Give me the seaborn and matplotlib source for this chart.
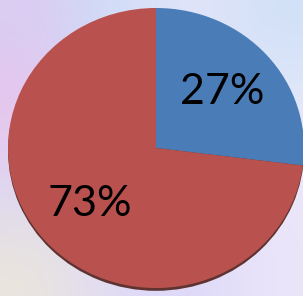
import numpy as np
import matplotlib
matplotlib.use("Agg")
import matplotlib.pyplot as plt
import seaborn as sns

# data
labels = ["A", "B"]
shares = [27, 73]
colors = ["#4a7db7", "#b9524e"]

sns.set_theme(style="white")
plt.rcParams["font.family"] = ["Lato", "DejaVu Sans"]

fig = plt.figure(figsize=(3.03, 2.96), dpi=100)

# soft blurry backdrop
bg = fig.add_axes([0, 0, 1, 1])
grid = np.array([
    [[0.86, 0.80, 0.95], [0.80, 0.87, 0.97], [0.90, 0.90, 0.98], [0.82, 0.88, 0.97]],
    [[0.92, 0.76, 0.92], [0.85, 0.85, 0.96], [0.88, 0.88, 0.97], [0.90, 0.92, 0.98]],
    [[0.86, 0.84, 0.96], [0.88, 0.86, 0.96], [0.90, 0.88, 0.97], [0.93, 0.90, 0.98]],
    [[0.92, 0.90, 0.86], [0.88, 0.86, 0.97], [0.86, 0.84, 0.97], [0.92, 0.90, 0.98]],
])
bg.imshow(grid, interpolation="bicubic", aspect="auto", extent=[0, 1, 0, 1])
bg.set_axis_off()

ax = fig.add_axes([0, 0, 1, 1])
ax.set_facecolor("none")
# faint shadow under the pie
ax.pie([1], radius=1.0, center=(0.0, -0.02), colors=["#5e3331"],
       wedgeprops=dict(linewidth=0))
wedges, texts, autotexts = ax.pie(
    shares, colors=colors, startangle=90, counterclock=False,
    autopct="%d%%", pctdistance=0.6, radius=1.0,
    wedgeprops=dict(linewidth=0),
    textprops=dict(fontsize=31, color="black"))
ax.set_aspect("auto")
ax.set_xlim(-1.054, 0.993)
ax.set_ylim(-1.057, 1.057)
ax.set_axis_off()

fig.savefig("out.png", dpi=100)
